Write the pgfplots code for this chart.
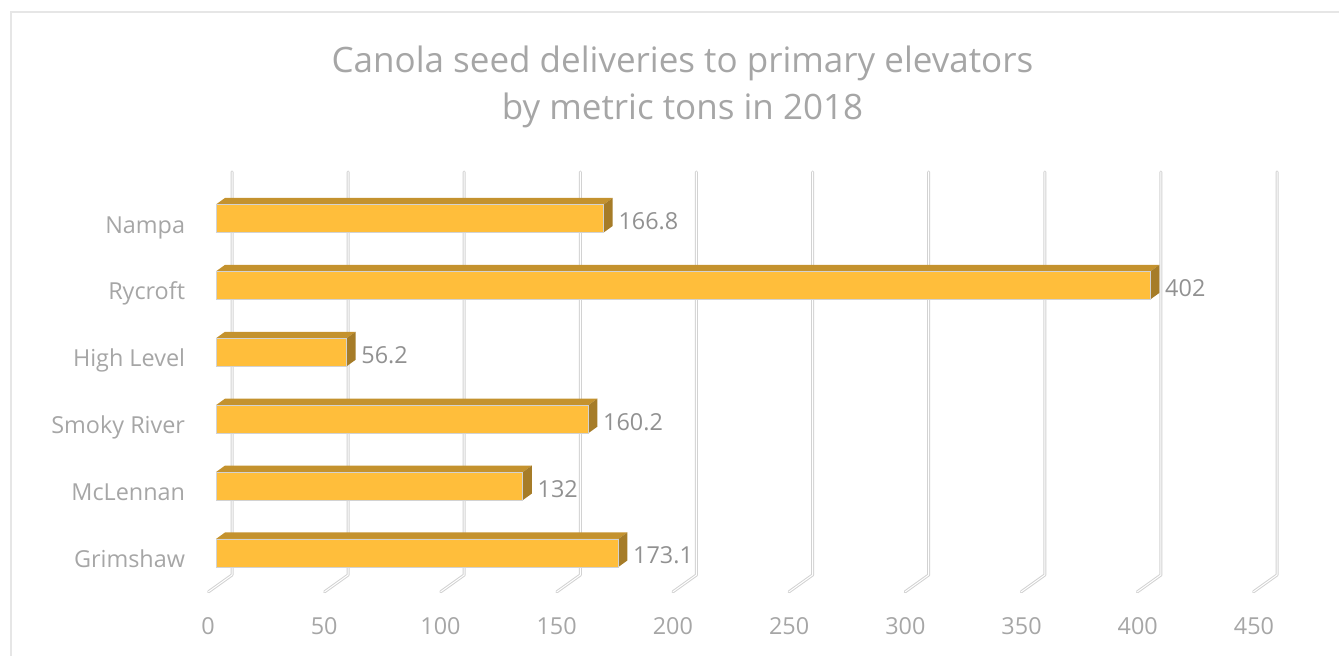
\documentclass[border=0pt]{standalone}
\usepackage{fontspec}
\setmainfont{Open Sans}
\usepackage{pgfplots}
\usepackage{pgfplotstable}
\pgfplotsset{compat=1.18}
\definecolor{barfront}{HTML}{FFBE3B}
\definecolor{bartop}{HTML}{C4922E}
\definecolor{barside}{HTML}{A67C28}
\definecolor{gridc}{HTML}{D2D2D2}
\definecolor{txt}{HTML}{A6A6A6}
\definecolor{lbl}{HTML}{919191}
\definecolor{framec}{HTML}{E6E6E6}

\pgfplotstableread{
idx value
0 173.1
1 132
2 160.2
3 56.2
4 402
5 166.8
}\datatable

\begin{document}
\begin{tikzpicture}
\useasboundingbox (0pt,0pt) rectangle (669.5pt,328pt);
\draw[framec, line width=1pt] (5.5pt,0pt) -- (5.5pt,322pt) -- (669.5pt,322pt);
\node[txt, font=\fontsize{17.5}{23.5}\selectfont, anchor=base, inner sep=0pt] at (341.25pt,291.5pt) {Canola seed deliveries to primary elevators};
\node[txt, font=\fontsize{17.5}{23.5}\selectfont, anchor=base, inner sep=0pt] at (341.25pt,268pt) {by metric tons in 2018};

% back wall with gridlines
\begin{axis}[at={(116pt,40.5pt)}, anchor=south west, scale only axis,
  width=522.5pt, height=201.5pt,
  xmin=0, xmax=450, ymin=0, ymax=1,
  axis line style={draw=none}, tick style={draw=none},
  xtick={0,50,...,450}, xticklabels={}, ytick=\empty, clip=false]
\pgfplotsinvokeforeach{0,50,...,450}{
  \draw[gridc, line width=0.5pt, double=white, double distance=0.5pt, line cap=round, line join=round]
    (axis cs:#1,1) -- (axis cs:#1,0) -- ++(-11.75pt,-8.4pt);
}
\end{axis}

% front plane with bars
\begin{axis}[at={(108pt,32pt)}, anchor=south west, scale only axis,
  width=523pt, height=203.5pt,
  xmin=0, xmax=450, ymin=-0.583, ymax=5.5,
  axis line style={draw=none}, tick style={draw=none},
  xtick={0,50,...,450},
  ytick={0,...,5},
  yticklabels={Grimshaw,McLennan,Smoky River,High Level,Rycroft,Nampa},
  /pgf/number format/assume math mode=true,
  xticklabel style={anchor=north, inner sep=0pt, yshift=-12.8pt, xshift=-4pt, text=txt, font=\fontsize{11.7}{14}\selectfont},
  yticklabel style={anchor=base east, inner sep=0pt, xshift=-11pt, yshift=-7.3pt, text=txt, font=\fontsize{11.7}{14}\selectfont},
  xbar, bar width=14pt, clip=false,
  nodes near coords,
  every node near coord/.append style={anchor=west, inner sep=0pt, xshift=7.2pt, yshift=-1.3pt, text=lbl, font=\fontsize{11.7}{14}\selectfont},
]
\pgfplotsinvokeforeach{0,...,5}{
  \pgfplotstablegetelem{#1}{value}\of\datatable
  \edef\v{\pgfplotsretval}
  \edef\tmp{
    \noexpand\fill[bartop] ([yshift=7pt]axis cs:0,#1) -- ([yshift=7pt]axis cs:\v,#1) -- ([shift={(4.5pt,10.25pt)}]axis cs:\v,#1) -- ([shift={(4.5pt,10.25pt)}]axis cs:0,#1) -- cycle;
    \noexpand\fill[barside] ([yshift=7pt]axis cs:\v,#1) -- ([yshift=-7pt]axis cs:\v,#1) -- ([shift={(4.5pt,-3.75pt)}]axis cs:\v,#1) -- ([shift={(4.5pt,10.25pt)}]axis cs:\v,#1) -- cycle;
  }
  \tmp
}
\addplot[xbar, fill=barfront, draw=gridc, line width=0.4pt] table[x=value, y=idx] {\datatable};
\end{axis}
\end{tikzpicture}
\end{document}
